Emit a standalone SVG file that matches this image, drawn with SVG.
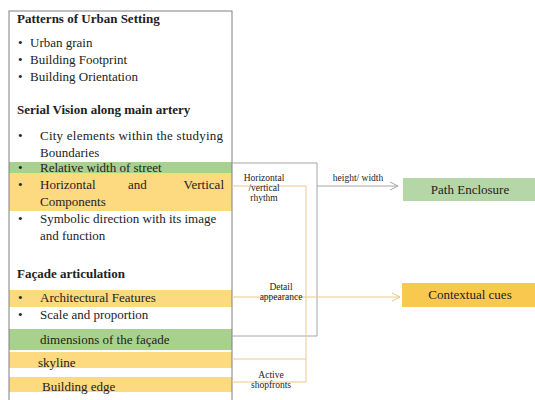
<svg xmlns="http://www.w3.org/2000/svg" width="535" height="400" viewBox="0 0 535 400">
<defs>
<style>
text{font-family:"Liberation Serif","Times New Roman",serif;fill:#222}
.t{font-size:13px}
.b{font-size:13px;font-weight:bold}
.s{font-size:9.5px;text-anchor:middle}
.n{font-size:13px;text-anchor:middle}
.g{fill:#a9d18e}
.o{fill:#fdd97f}
.gl{stroke:#a6a6a6;stroke-width:1;fill:none}
.ol{stroke:#e6c98a;stroke-width:1;fill:none}
</style>
<marker id="ag" markerWidth="10" markerHeight="10" refX="9" refY="5" orient="auto" markerUnits="userSpaceOnUse"><path d="M1,1 L9,5 L1,9" fill="none" stroke="#a6a6a6" stroke-width="1"/></marker>
<marker id="ao" markerWidth="10" markerHeight="10" refX="9" refY="5" orient="auto" markerUnits="userSpaceOnUse"><path d="M1,1 L9,5 L1,9" fill="none" stroke="#e6c98a" stroke-width="1"/></marker>
</defs>
<rect width="535" height="400" fill="#fff"/>
<g id="main-box">
<rect class="g" x="9" y="162" width="223" height="11"/>
<rect class="o" x="9" y="173" width="223" height="38"/>
<rect class="o" x="9" y="290" width="223" height="17"/>
<rect class="g" x="9" y="329" width="223" height="21"/>
<rect class="o" x="9" y="352" width="223" height="16"/>
<rect class="o" x="9" y="377" width="223" height="15"/>
<rect x="9" y="11" width="223" height="400" fill="none" stroke="#808080" stroke-width="1"/>
<text class="b" x="17" y="23">Patterns of Urban Setting</text>
<text class="t" x="18" y="47">•</text><text class="t" x="30" y="47">Urban grain</text>
<text class="t" x="18" y="64">•</text><text class="t" x="30" y="64">Building Footprint</text>
<text class="t" x="18" y="81">•</text><text class="t" x="30" y="81">Building Orientation</text>
<text class="b" x="17" y="114">Serial Vision along main artery</text>
<text class="t" x="18" y="140">•</text><text class="t" x="40" y="140" textLength="183" lengthAdjust="spacing">City elements within the studying</text>
<text class="t" x="40" y="157">Boundaries</text>
<text class="t" x="18" y="172">•</text><text class="t" x="40" y="172">Relative width of street</text>
<text class="t" x="18" y="189">•</text><text class="t" x="40" y="189">Horizontal</text><text class="t" x="128" y="189">and</text><text class="t" x="224" y="189" text-anchor="end">Vertical</text>
<text class="t" x="40" y="206">Components</text>
<text class="t" x="18" y="223">•</text><text class="t" x="40" y="223">Symbolic direction with its image</text>
<text class="t" x="40" y="240">and function</text>
<text class="b" x="17" y="278">Façade articulation</text>
<text class="t" x="18" y="302">•</text><text class="t" x="40" y="302">Architectural Features</text>
<text class="t" x="18" y="319">•</text><text class="t" x="40" y="319">Scale and proportion</text>
<text class="t" x="40" y="344">dimensions of the façade</text>
<text class="t" x="38" y="367">skyline</text>
<text class="t" x="42" y="391">Building edge</text>
</g>
<g id="connectors">
<polyline class="gl" points="232,163 317,163 317,336 232,336"/>
<line class="gl" x1="317" y1="186" x2="398" y2="186" marker-end="url(#ag)"/>
<polyline class="ol" points="232,186 306,186 306,382 232,382"/>
<line class="ol" x1="232" y1="359" x2="306" y2="359"/>
<line class="ol" x1="232" y1="297" x2="400" y2="297" marker-end="url(#ao)"/>
<text class="s" x="264" y="181">Horizontal</text>
<text class="s" x="264" y="191">/vertical</text>
<text class="s" x="264" y="201">rhythm</text>
<text class="s" x="358" y="181">height/ width</text>
<text class="s" x="281" y="290">Detail</text>
<text class="s" x="281" y="300">appearance</text>
<text class="s" x="271" y="378">Active</text>
<text class="s" x="271" y="388">shopfronts</text>
</g>
<g id="path-enclosure">
<rect x="403" y="178" width="132" height="23" fill="#b5d6a7"/>
<text class="n" x="470" y="194">Path Enclosure</text>
</g>
<g id="contextual-cues">
<rect x="402" y="283" width="133" height="24" fill="#f9c94f"/>
<text class="n" x="470" y="299">Contextual cues</text>
</g>
</svg>
